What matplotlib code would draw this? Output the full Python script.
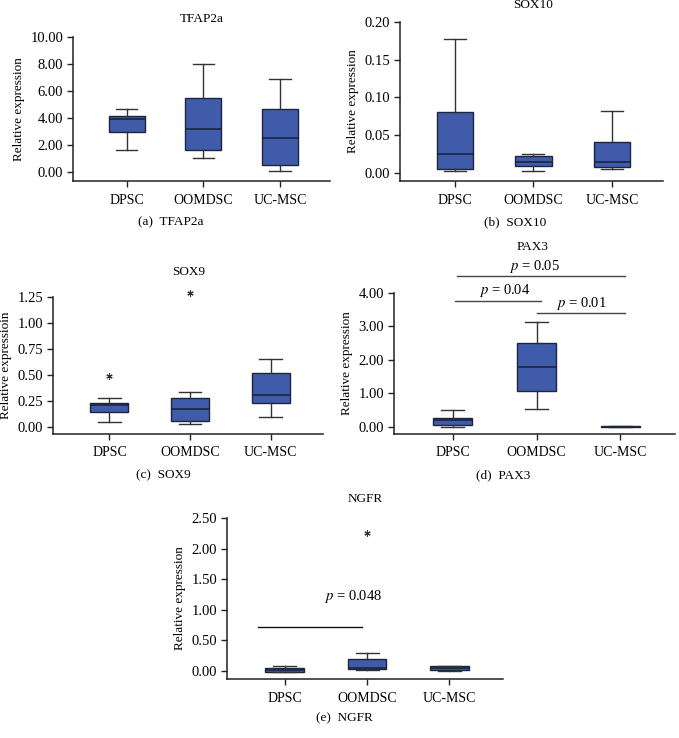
import numpy as np
import matplotlib
matplotlib.use("Agg")
import matplotlib.pyplot as plt

plt.rcParams['font.family'] = ['Liberation Serif', 'DejaVu Serif']
plt.rcParams['mathtext.fontset'] = 'stix'

groups = ["DPSC", "OOMDSC", "UC-MSC"]

# box stats per panel: whisker low, q1, median, q3, whisker high, outliers
tfap2a_lo = [1.65, 1.0, 0.1]
tfap2a_q1 = [2.95, 1.6, 0.5]
tfap2a_med = [3.9, 3.2, 2.5]
tfap2a_q3 = [4.15, 5.5, 4.7]
tfap2a_hi = [4.65, 8.0, 6.9]
tfap2a_out = [[], [], []]

sox10_lo = [0.003, 0.003, 0.005]
sox10_q1 = [0.005, 0.009, 0.008]
sox10_med = [0.025, 0.015, 0.015]
sox10_q3 = [0.081, 0.022, 0.041]
sox10_hi = [0.177, 0.025, 0.082]
sox10_out = [[], [], []]

sox9_lo = [0.05, 0.025, 0.10]
sox9_q1 = [0.14, 0.055, 0.235]
sox9_med = [0.21, 0.17, 0.305]
sox9_q3 = [0.235, 0.275, 0.515]
sox9_hi = [0.275, 0.34, 0.655]
sox9_out = [[0.49], [1.29], []]

pax3_lo = [0.0, 0.53, -0.01]
pax3_q1 = [0.05, 1.08, -0.01]
pax3_med = [0.2, 1.78, 0.0]
pax3_q3 = [0.27, 2.5, 0.02]
pax3_hi = [0.5, 3.13, 0.04]
pax3_out = [[], [], []]

ngfr_lo = [-0.02, 0.02, 0.0]
ngfr_q1 = [-0.01, 0.04, 0.02]
ngfr_med = [0.02, 0.05, 0.055]
ngfr_q3 = [0.05, 0.19, 0.09]
ngfr_hi = [0.09, 0.30, 0.09]
ngfr_out = [[], [2.25], []]

W, H = 679, 738
fig = plt.figure(figsize=(W / 100, H / 100), dpi=100)

box_color = "#3f5ba9"
edge_color = "#1c2440"
FS = 10


def px_axes(left, right, top, bottom):
    return fig.add_axes([left / W, 1 - bottom / H, (right - left) / W, (bottom - top) / H])


def fig_text(x, y, s, **kw):
    fig.text(x / W, 1 - y / H, s, ha='center', va='center', **kw)


def draw_panel(ax, lo, q1, med, q3, hi, out, yticks, fmt, ylim, ylabel="Relative expression"):
    stats = []
    for i in range(3):
        stats.append(dict(whislo=lo[i], q1=q1[i], med=med[i], q3=q3[i],
                          whishi=hi[i], fliers=out[i], label=groups[i]))
    parts = ax.bxp(stats, positions=[1, 2, 3], widths=0.47, capwidths=0.28,
                   patch_artist=True,
                   boxprops=dict(facecolor=box_color, edgecolor=edge_color, linewidth=1.0),
                   medianprops=dict(color=edge_color, linewidth=1.2),
                   whiskerprops=dict(color="#333333", linewidth=1.0),
                   capprops=dict(color="#333333", linewidth=1.0),
                   flierprops=dict(marker=(6, 2, 0), markersize=4.5, markeredgecolor="#333333",
                                   markeredgewidth=0.8, linestyle='none'))
    for f in parts['fliers']:
        f.set_clip_on(False)
    ax.set_xlim(0.3, 3.65)
    ax.set_ylim(*ylim)
    ax.set_yticks(yticks)
    ax.set_yticklabels([fmt.format(v) for v in yticks], fontsize=10.5)
    ax.set_xticks([1, 2, 3])
    ax.set_xticklabels(groups, fontsize=FS)
    ax.set_ylabel(ylabel, fontsize=9.5)
    for s in ['top', 'right']:
        ax.spines[s].set_visible(False)
    for s in ['left', 'bottom']:
        ax.spines[s].set_linewidth(1.1)
        ax.spines[s].set_color("#222222")
    ax.spines['left'].set_bounds(ylim[0], yticks[-1])
    ax.tick_params(axis='both', length=4, width=1.0, color="#222222", pad=3)
    ax.tick_params(axis='x', pad=5)


def bracket(ax, x0, x1, y, tx, ty, label, color="#444444"):
    ax.plot([x0, x1], [y, y], color=color, linewidth=1.0, clip_on=False)
    ax.text(tx, ty, label, ha='center', va='center', fontsize=10.5)


# (a) TFAP2a
ax = px_axes(73, 330, 37, 181)
draw_panel(ax, tfap2a_lo, tfap2a_q1, tfap2a_med, tfap2a_q3, tfap2a_hi, tfap2a_out,
           [0, 2, 4, 6, 8, 10], "{:.2f}", (-0.67, 10))
fig_text(202, 19, "TFAP2a", fontsize=9.5)
fig_text(171, 222, "(a)  TFAP2a", fontsize=9.5)

# (b) SOX10
ax = px_axes(400, 663, 22, 181)
draw_panel(ax, sox10_lo, sox10_q1, sox10_med, sox10_q3, sox10_hi, sox10_out,
           [0, 0.05, 0.10, 0.15, 0.20], "{:.2f}", (-0.0106, 0.20))
fig_text(533, 5, "SOX10", fontsize=9.5)
fig_text(515, 222, "(b)  SOX10", fontsize=9.5)

# (c) SOX9
ax = px_axes(53, 323, 297, 434)
draw_panel(ax, sox9_lo, sox9_q1, sox9_med, sox9_q3, sox9_hi, sox9_out,
           [0, 0.25, 0.50, 0.75, 1.00, 1.25], "{:.2f}", (-0.067, 1.25),
           ylabel="Relative expressioin")
fig_text(189, 272, "SOX9", fontsize=9.5)
fig_text(163, 475, "(c)  SOX9", fontsize=9.5)

# (d) PAX3
ax = px_axes(394, 675, 293, 434)
draw_panel(ax, pax3_lo, pax3_q1, pax3_med, pax3_q3, pax3_hi, pax3_out,
           [0, 1, 2, 3, 4], "{:.2f}", (-0.21, 4))
bracket(ax, 1.05, 3.05, 4.51, 1.98, 4.78, r"$p$ = 0.05")
bracket(ax, 1.03, 2.05, 3.76, 1.62, 4.06, r"$p$ = 0.04")
bracket(ax, 2.0, 3.05, 3.40, 2.53, 3.70, r"$p$ = 0.01")
fig_text(533, 247, "PAX3", fontsize=9.5)
fig_text(503, 475, "(d)  PAX3", fontsize=9.5)

# (e) NGFR
ax = px_axes(227, 503, 518, 679)
draw_panel(ax, ngfr_lo, ngfr_q1, ngfr_med, ngfr_q3, ngfr_hi, ngfr_out,
           [0, 0.5, 1.0, 1.5, 2.0, 2.5], "{:.2f}", (-0.13, 2.5))
bracket(ax, 0.675, 1.94, 0.72, 1.83, 1.21, r"$p$ = 0.048", color="#111111")
fig_text(365, 499, "NGFR", fontsize=9.5)
fig_text(344, 718, "(e)  NGFR", fontsize=9.5)

fig.savefig("out.png", dpi=100)
